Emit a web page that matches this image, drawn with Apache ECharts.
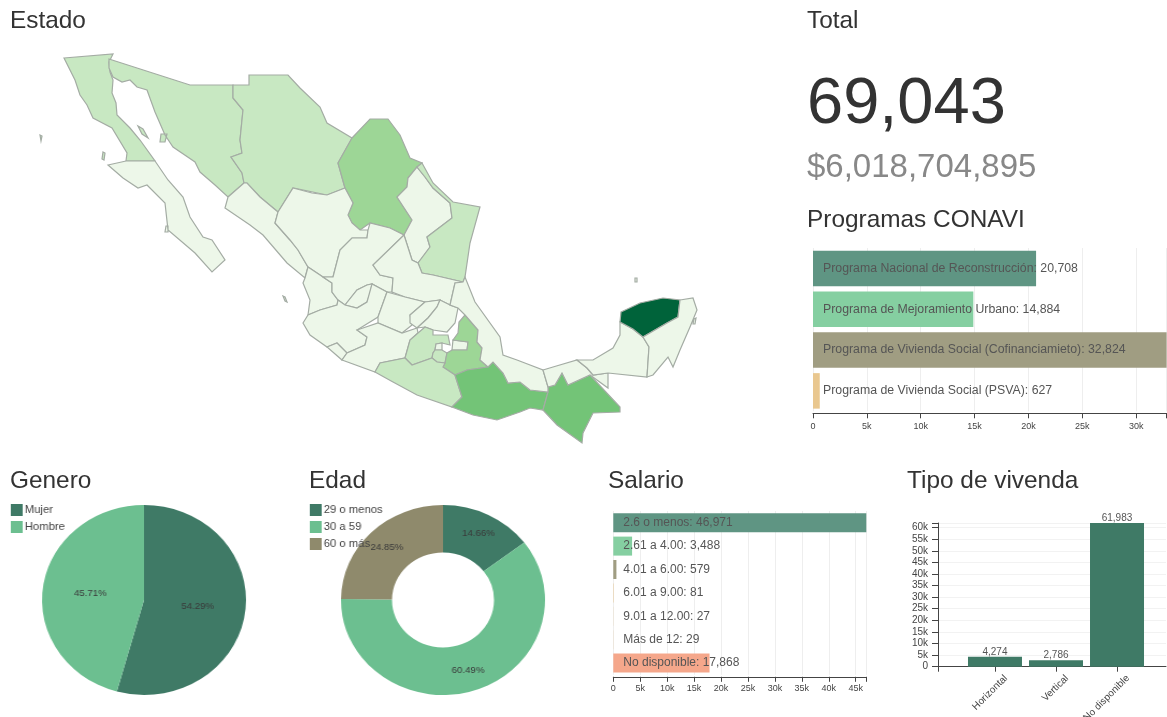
<!DOCTYPE html>
<html><head><meta charset="utf-8">
<style>
html,body{margin:0;padding:0;background:#fff;overflow:hidden}
#main{position:absolute;left:0;top:0;width:1167px;height:717px}
#genero,#edad{position:absolute;top:490px;width:280px;height:220px;transform:scaleX(1.074);transform-origin:50% 50%}
#genero{left:4px}
#edad{left:303px}
</style>
<script src="https://cdn.jsdelivr.net/npm/echarts@6/dist/echarts.min.js"></script>
</head><body>
<div id="main"></div><div id="genero"></div><div id="edad"></div>
<script>
const FONT = '"Liberation Sans", Arial, sans-serif';

// ---- values ----
const totalCount = '69,043';
const totalAmount = '$6,018,704,895';

const programaNames = ['Programa Nacional de Reconstrucción','Programa de Mejoramiento Urbano','Programa de Vivienda Social (Cofinanciamieto)','Programa de Vivienda Social (PSVA)'];
const programaValues = [20708,14884,32824,627];
const programaColors = ['#5f9583','#85cfa1','#a09d82','#e9c78f'];

const generoNames = ['Mujer','Hombre'];
const generoValues = [54.29,45.71];
const edadNames = ['29 o menos','30 a 59','60 o más'];
const edadValues = [14.66,60.49,24.85];
const pieColors = ['#3f7a66','#6cbf90','#8f8a6c'];

const salarioNames = ['2.6 o menos','2.61 a 4.00','4.01 a 6.00','6.01 a 9.00','9.01 a 12.00','Más de 12','No disponible'];
const salarioValues = [46971,3488,579,81,27,29,17868];
const salarioColors = ['#5f9583','#85cfa1','#a09d82','#e9c78f','#e9c78f','#e9c78f','#f5a78b'];

const viviendaNames = ['Horizontal','Vertical','No disponible'];
const viviendaValues = [4274,2786,61983];

// estimated state values, only their colour class can be read
const estadoNames = ['Baja California','Sonora','Chihuahua','Coahuila','Nuevo León','Tamaulipas','Baja California Sur','Sinaloa','Durango','Nayarit','Zacatecas','San Luis Potosí','Aguascalientes','Jalisco','Colima','Guanajuato','Querétaro','Hidalgo','Michoacán','México','Ciudad de México','Morelos','Tlaxcala','Puebla','Guerrero','Oaxaca','Chiapas','Veracruz','Tabasco','Campeche','Yucatán','Quintana Roo'];
const estadoValues = [1000,1100,1050,3000,150,1000,200,180,170,90,120,200,60,250,40,120,70,150,220,900,100,800,60,3300,1000,5200,5000,300,180,100,17000,120];
const mapClassLimits = [500,2000,4000,12000];
const mapClassColors = ['#edf7e9','#c8e8c2','#9dd696','#73c477','#00633a'];

// hand traced state outlines (trace units, y downward)
const estadoShapes = {
'Baja California':[[[64,58],[113,54],[109,62],[110,72],[113,80],[112,93],[116,103],[117,115],[130,128],[140,140],[155,161],[126,161],[127,153],[112,128],[93,118],[87,105],[80,95],[75,80]],[[138,126],[143,129],[148,138],[142,134]],[[103,152],[105,153],[104,160],[102,159]],[[40,135],[42,136],[41,141],[40,140]]],
'Sonora':[[[109,59],[190,85],[233,85],[233,98],[243,110],[240,140],[242,153],[231,157],[242,173],[244,183],[228,197],[215,185],[200,172],[195,162],[173,147],[165,135],[155,112],[147,90],[137,87],[130,80],[122,82],[113,77],[109,68]],[[161,134],[167,134],[165,142],[160,142]]],
'Chihuahua':[[[233,85],[249,85],[249,75],[288,75],[300,88],[320,107],[327,123],[352,138],[338,163],[345,188],[327,195],[293,188],[278,212],[260,197],[247,183],[244,183],[242,173],[231,157],[242,153],[240,140],[243,110],[233,98]]],
'Coahuila':[[[352,138],[370,119],[388,119],[400,135],[410,158],[422,163],[417,167],[408,178],[407,187],[397,197],[412,220],[404,235],[390,228],[370,223],[360,230],[352,223],[348,215],[353,203],[345,188],[338,163]]],
'Nuevo León':[[[417,167],[425,177],[433,188],[450,203],[452,218],[427,237],[430,247],[418,263],[412,260],[404,235],[412,220],[397,197],[407,187],[408,178]]],
'Tamaulipas':[[[422,163],[433,183],[453,202],[480,207],[470,243],[465,277],[463,282],[433,275],[422,273],[418,263],[430,247],[427,237],[452,218],[450,203],[433,188],[425,177],[417,167]]],
'Baja California Sur':[[[108,165],[126,161],[155,161],[168,180],[183,197],[190,217],[203,237],[212,240],[225,260],[212,272],[195,253],[168,230],[165,203],[147,185],[138,188],[123,178]],[[166,226],[168,226],[168,232],[165,232]]],
'Sinaloa':[[[228,197],[244,183],[247,183],[260,197],[278,212],[275,223],[290,240],[298,250],[308,267],[305,278],[287,263],[263,235],[250,225],[225,208]]],
'Durango':[[[293,188],[312,193],[327,195],[345,188],[353,203],[348,215],[352,223],[360,230],[368,230],[367,238],[352,238],[340,250],[333,277],[323,277],[308,267],[298,250],[290,240],[275,223],[278,212]]],
'Nayarit':[[[305,278],[308,267],[323,277],[332,283],[332,292],[338,300],[337,305],[320,310],[308,315],[310,300],[303,283]],[[283,296],[285,297],[287,302],[285,301]]],
'Zacatecas':[[[333,277],[340,250],[352,238],[367,238],[368,230],[370,223],[390,228],[404,235],[373,265],[380,275],[393,278],[392,292],[387,292],[372,284],[367,285],[357,290],[345,305],[338,300],[332,292],[332,283],[323,277]]],
'San Luis Potosí':[[[404,235],[412,260],[418,263],[422,273],[433,275],[463,282],[455,283],[450,305],[440,300],[425,302],[405,297],[392,292],[393,278],[380,275],[373,265]]],
'Aguascalientes':[[[345,305],[357,290],[367,285],[372,284],[370,294],[367,302],[357,308]]],
'Jalisco':[[[303,323],[308,315],[320,310],[337,305],[338,300],[345,305],[357,308],[367,302],[372,284],[387,292],[378,317],[357,330],[367,337],[365,345],[347,353],[337,343],[327,347],[310,335]]],
'Colima':[[[327,347],[337,343],[347,353],[342,360]]],
'Guanajuato':[[[387,292],[405,297],[425,302],[410,315],[412,325],[402,333],[378,323],[378,317]]],
'Querétaro':[[[425,302],[440,300],[437,307],[428,318],[417,328],[410,323],[410,315]]],
'Hidalgo':[[[440,300],[450,305],[458,308],[455,323],[447,332],[433,330],[425,327],[417,328],[428,318],[437,307]]],
'Michoacán':[[[357,330],[378,323],[402,333],[417,328],[418,333],[410,340],[405,358],[380,363],[375,372],[342,360],[347,353],[365,345],[367,337]]],
'México':[[[405,358],[410,340],[418,333],[425,327],[433,330],[433,335],[448,335],[450,345],[442,343],[436,344],[435,350],[433,353],[432,358],[412,365]]],
'Ciudad de México':[[[436,344],[442,343],[442,350],[435,350]]],
'Morelos':[[[433,353],[435,350],[442,350],[447,353],[445,363],[437,362],[432,358]]],
'Tlaxcala':[[[453,340],[468,342],[467,350],[458,350],[452,350]]],
'Puebla':[[[465,315],[478,330],[477,342],[482,348],[480,360],[488,367],[467,370],[455,375],[443,367],[445,363],[447,353],[452,350],[458,350],[467,350],[468,342],[453,340],[458,333],[459,322]]],
'Guerrero':[[[375,372],[380,363],[405,358],[412,365],[432,358],[437,362],[445,363],[443,367],[455,375],[462,397],[452,407],[417,395],[393,382]]],
'Oaxaca':[[[455,375],[467,370],[488,367],[493,362],[503,373],[508,383],[520,382],[530,390],[548,392],[543,410],[530,408],[520,412],[497,420],[473,415],[452,407],[462,397]]],
'Chiapas':[[[548,392],[548,387],[555,385],[562,373],[568,385],[590,375],[620,407],[620,412],[593,413],[583,433],[582,443],[557,425],[543,410]]],
'Veracruz':[[[455,283],[463,282],[465,277],[475,302],[500,337],[503,355],[517,360],[543,370],[548,387],[548,392],[530,390],[520,382],[508,383],[503,373],[493,362],[488,367],[480,360],[482,348],[477,342],[478,330],[465,315],[458,308],[450,305]]],
'Tabasco':[[[543,370],[553,367],[577,360],[587,368],[593,375],[608,373],[608,388],[590,375],[568,385],[562,373],[555,385],[548,387]]],
'Campeche':[[[620,322],[620,335],[613,348],[593,360],[577,360],[587,368],[593,375],[608,373],[647,377],[649,347],[643,337],[633,329]],[[635,278],[637,278],[637,282],[635,282]]],
'Yucatán':[[[621,312],[640,303],[663,298],[680,300],[678,317],[667,323],[643,337],[633,329],[620,322]]],
'Quintana Roo':[[[680,300],[693,298],[697,310],[690,327],[680,350],[673,367],[668,357],[653,375],[647,377],[649,347],[643,337],[667,323],[678,317]],[[694,319],[696,318],[695,324],[693,324]]]
};
// ---- end of data ----

const geoJson = {type:'FeatureCollection',features:estadoNames.map(n=>({
  type:'Feature',properties:{name:n},
  geometry:{type:'MultiPolygon',coordinates:estadoShapes[n].map(r=>[r.concat([r[0]])])}
}))};
echarts.registerMap('mexico', geoJson);
const allPts = estadoNames.flatMap(n=>estadoShapes[n].flat());
const xs = allPts.map(p=>p[0]), ys = allPts.map(p=>p[1]);
const bx0=Math.min(...xs), bx1=Math.max(...xs), by0=Math.min(...ys), by1=Math.max(...ys);

const fmt = v => Number(v).toLocaleString('en-US');
const kLabel = v => v===0 ? '0' : (v%5000===0 ? (v/1000)+'k' : '');
const txt = (text,left,top,size,color) => ({text,left,top,padding:0,
  textStyle:{fontFamily:FONT,fontWeight:'normal',fontSize:size,color:color||'#333'}});

const rowAxis = (gridIndex,max,margin) => ({type:'value',gridIndex,min:0,max,interval:5000,offset:2,
  axisLine:{show:true,onZero:false,lineStyle:{color:'#444'}},
  axisTick:{show:true,length:5,lineStyle:{color:'#444'}},
  axisLabel:{fontSize:9,color:'#444',fontFamily:FONT,margin,formatter:kLabel,hideOverlap:false,showMaxLabel:true},
  splitLine:{show:true,lineStyle:{color:'#eee'}}});
const rowCat = (gridIndex,data) => ({type:'category',gridIndex,data,inverse:true,show:false});
const rowSeries = (i,names,vals,cols,bw,size) => ({type:'bar',xAxisIndex:i,yAxisIndex:i,barWidth:bw,silent:true,
  data:vals.map((v,k)=>({value:v,name:names[k],itemStyle:{color:cols[k]}})),
  label:{show:true,position:'insideLeft',distance:10,fontSize:size,fontFamily:FONT,color:'#555',
    formatter:p=>p.name+': '+fmt(p.value)}});

const main = echarts.init(document.getElementById('main'),null,{renderer:'canvas'});
main.setOption({
  animation:false,
  title:[
    txt('Estado',10,9,24.4),txt('Total',807,9,24.4),
    txt(totalCount,807,73,65),txt(totalAmount,807,151,33,'#888'),
    txt('Programas CONAVI',807,208,24.4),
    txt('Genero',10,469,24.4),txt('Edad',309,469,24.4),txt('Salario',608,469,24.4),txt('Tipo de vivenda',907,469,24.4)
  ],
  visualMap:{show:false,type:'piecewise',seriesIndex:0,
    pieces:[{lt:mapClassLimits[0],color:mapClassColors[0]},
      {gte:mapClassLimits[0],lt:mapClassLimits[1],color:mapClassColors[1]},
      {gte:mapClassLimits[1],lt:mapClassLimits[2],color:mapClassColors[2]},
      {gte:mapClassLimits[2],lt:mapClassLimits[3],color:mapClassColors[3]},
      {gte:mapClassLimits[3],color:mapClassColors[4]}]},
  grid:[
    {left:813,top:248,width:353.6,height:163.3,outerBoundsMode:'none'},
    {left:613.3,top:511,width:253,height:163.8,outerBoundsMode:'none'},
    {left:938,top:523,width:228,height:143.7,outerBoundsMode:'none'}
  ],
  xAxis:[rowAxis(0,32824,9),rowAxis(1,46971,7),
    {type:'value',gridIndex:2,min:-0.934,max:2.803,
     axisLine:{show:true,onZero:false,lineStyle:{color:'#444'}},
     axisTick:{show:true,length:5,customValues:[-0.934,0,1,2],lineStyle:{color:'#444'}},
     axisLabel:{customValues:[0.18,1.18,2.18],fontSize:10,color:'#444',fontFamily:FONT,rotate:45,margin:10,
       formatter:v=>viviendaNames[Math.floor(v)]},
     splitLine:{show:false}}],
  yAxis:[rowCat(0,programaNames),rowCat(1,salarioNames),
    {type:'value',gridIndex:2,min:0,max:61983,interval:5000,
     axisLine:{show:true,onZero:false,lineStyle:{color:'#444'}},
     axisTick:{show:true,length:6,lineStyle:{color:'#444'}},
     axisLabel:{fontSize:10,color:'#444',fontFamily:FONT,margin:10,formatter:kLabel},
     splitLine:{show:true,lineStyle:{color:'#f2f2f2'}}}],
  series:[
    {type:'map',map:'mexico',silent:true,
     projection:{project:p=>p,unproject:p=>p},
     left:bx0,top:by0,width:bx1-bx0,height:by1-by0,
     itemStyle:{borderColor:'#a4aca4',borderWidth:1.2},
     label:{show:false},emphasis:{disabled:true},select:{disabled:true},
     data:estadoNames.map((n,i)=>({name:n,value:estadoValues[i]}))},
    rowSeries(0,programaNames,programaValues,programaColors,35.5,12.3),
    rowSeries(1,salarioNames,salarioValues,salarioColors,19,12),
    {type:'bar',xAxisIndex:2,yAxisIndex:2,barWidth:54,silent:true,
     data:viviendaValues.map((v,i)=>[i,v]),itemStyle:{color:'#3f7a66'},
     label:{show:true,position:'top',distance:0,fontSize:10,fontFamily:FONT,color:'#555',
       formatter:p=>fmt(p.value[1])}}
  ]
});

function pie(id,names,vals,inner){
  const c = echarts.init(document.getElementById(id),null,{renderer:'canvas'});
  c.setOption({animation:false,color:pieColors,
    legend:{orient:'vertical',left:16,top:14,padding:0,itemWidth:11,itemHeight:12,itemGap:5,
      icon:'rect',data:names,textStyle:{fontFamily:FONT,fontSize:10.5,color:'#444',padding:[0,0,0,-3]}},
    series:[{type:'pie',center:[140,110],radius:[inner,95],startAngle:90,clockwise:true,silent:true,
      zlevel:0,z:1,
      data:names.map((n,i)=>({name:n,value:vals[i]})),
      label:{show:true,position:'inside',fontSize:9,fontFamily:FONT,color:'#3a3a3a',formatter:p=>p.value.toFixed(2)+'%'},
      labelLine:{show:false}}]});
}
pie('genero',generoNames,generoValues,0);
pie('edad',edadNames,edadValues,47.5);
</script>
</body></html>
